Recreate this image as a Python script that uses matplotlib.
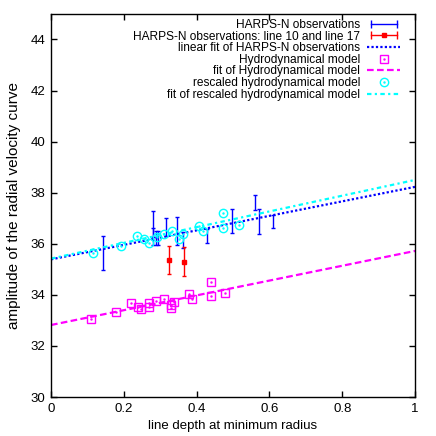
import numpy as np
import matplotlib
matplotlib.use("Agg")
import matplotlib.pyplot as plt
from matplotlib.lines import Line2D
from matplotlib.legend_handler import HandlerLine2D, HandlerTuple

plt.rcParams["font.family"] = ["Liberation Sans", "DejaVu Sans"]
plt.rcParams["font.size"] = 9

# HARPS-N observations
obs_x = [0.144, 0.279, 0.279, 0.288, 0.295, 0.315, 0.347, 0.363, 0.428, 0.496, 0.560, 0.572, 0.611]
obs_y = [35.64, 36.62, 36.45, 36.23, 36.23, 36.66, 36.50, 36.15, 36.30, 36.89, 37.61, 36.86, 36.86]
obs_e = [0.67, 0.67, 0.18, 0.27, 0.27, 0.35, 0.55, 0.30, 0.27, 0.47, 0.30, 0.49, 0.26]

# line 10 and line 17
red_x = [0.324, 0.365]
red_y = [35.36, 35.30]
red_e = [0.55, 0.57]

# hydrodynamical model
hyd_x = [0.109, 0.179, 0.219, 0.238, 0.247, 0.268, 0.269, 0.288, 0.309, 0.329, 0.330,
         0.339, 0.379, 0.388, 0.439, 0.439, 0.478]
hyd_y = [33.04, 33.34, 33.67, 33.54, 33.43, 33.67, 33.54, 33.75, 33.84, 33.60, 33.47,
         33.71, 34.03, 33.84, 34.49, 33.97, 34.08]

# rescaled hydrodynamical model
res_x = [0.116, 0.192, 0.235, 0.256, 0.269, 0.290, 0.311, 0.333, 0.352, 0.363, 0.407,
         0.418, 0.473, 0.473, 0.516]
res_y = [35.65, 35.93, 36.30, 36.17, 36.05, 36.25, 36.38, 36.49, 36.17, 36.38, 36.70,
         36.49, 37.19, 36.62, 36.75]

# linear fits: intercept, slope
fit_obs = (35.39, 2.84)
fit_hyd = (32.82, 2.90)
fit_res = (35.42, 3.08)

fig = plt.figure(figsize=(4.36, 4.36), dpi=100)
ax = fig.add_axes([0.117, 0.0894, 0.835, 0.8786])

xx = np.array([0.0, 1.0])

ax.errorbar(obs_x, obs_y, yerr=obs_e, fmt="none", ecolor="#0000ff", elinewidth=1,
            capsize=1.6, capthick=1)
ax.errorbar(red_x, red_y, yerr=red_e, fmt="s", color="#ff0000", ms=3, elinewidth=1,
            capsize=1.6, capthick=1)
ax.plot(xx, fit_obs[0] + fit_obs[1] * xx, color="#0000ff", lw=1.6, ls=(0, (1, 1)))
ax.plot(hyd_x, hyd_y, "s", mfc="none", mec="#ff00ff", ms=6, mew=1)
ax.plot(hyd_x, hyd_y, ".", color="#ff00ff", ms=1.5)
ax.plot(xx, fit_hyd[0] + fit_hyd[1] * xx, color="#ff00ff", lw=1.6, ls=(0, (3, 1.5)))
ax.plot(res_x, res_y, "o", mfc="none", mec="#00ffff", ms=6, mew=1)
ax.plot(res_x, res_y, ".", color="#00ffff", ms=1.5)
ax.plot(xx, fit_res[0] + fit_res[1] * xx, color="#00ffff", lw=1.6, ls=(0, (2, 1.5, 1, 1.5)))

ax.set_xlim(0, 1)
ax.set_ylim(30, 45)
ax.set_xticks([0, 0.2, 0.4, 0.6, 0.8, 1])
ax.set_xticklabels(["0", "0.2", "0.4", "0.6", "0.8", "1"])
ax.set_yticks([30, 32, 34, 36, 38, 40, 42, 44])
ax.tick_params(direction="in", top=True, right=True, length=4, width=1, pad=4,
               labelsize=9.5)
for s in ax.spines.values():
    s.set_linewidth(1)
ax.set_xlabel("line depth at minimum radius", fontsize=9.5, labelpad=4)
ax.set_ylabel("amplitude of the radial velocity curve", fontsize=11, labelpad=7)

# legend handles in gnuplot style
h_obs = Line2D([], [], color="#0000ff", lw=1, marker="|", ms=6, mew=1)
h_red_line = Line2D([], [], color="#ff0000", lw=1, marker="|", ms=6, mew=1)
h_red_pt = Line2D([], [], color="#ff0000", lw=0, marker="s", ms=3)
h_fit_obs = Line2D([], [], color="#0000ff", lw=1.6, ls=(0, (1, 1)))
h_hyd = Line2D([], [], color="#ff00ff", lw=0, marker="s", mfc="none", ms=6, mew=1)
h_hyd_dot = Line2D([], [], color="#ff00ff", lw=0, marker=".", ms=1.5)
h_fit_hyd = Line2D([], [], color="#ff00ff", lw=1.6, ls=(0, (3, 1.5)))
h_res = Line2D([], [], color="#00ffff", lw=0, marker="o", mfc="none", ms=6, mew=1)
h_res_dot = Line2D([], [], color="#00ffff", lw=0, marker=".", ms=1.5)
h_fit_res = Line2D([], [], color="#00ffff", lw=1.6, ls=(0, (2, 1.5, 1, 1.5)))

two = HandlerLine2D(numpoints=2)
one = HandlerLine2D(numpoints=1)
handles = [h_obs, (h_red_line, h_red_pt), h_fit_obs, (h_hyd, h_hyd_dot), h_fit_hyd,
           (h_res, h_res_dot), h_fit_res]
labels = ["HARPS-N observations", "HARPS-N observations: line 10 and line 17",
          "linear fit of HARPS-N observations", "Hydrodynamical model",
          "fit of Hydrodynamical model", "rescaled hydrodynamical model",
          "fit of rescaled hydrodynamical model"]
leg = ax.legend(handles, labels, loc="upper right", bbox_to_anchor=(0.959, 0.987),
                frameon=False, markerfirst=False, fontsize=8.6,
                handlelength=2.75, handletextpad=0.6, labelspacing=-0.03,
                borderaxespad=0, borderpad=0,
                handler_map={h_obs: two, h_red_line: two, h_red_pt: one,
                             h_hyd: one, h_hyd_dot: one, h_res: one, h_res_dot: one,
                             tuple: HandlerTuple(ndivide=1)})

fig.savefig("out.png", dpi=100)
